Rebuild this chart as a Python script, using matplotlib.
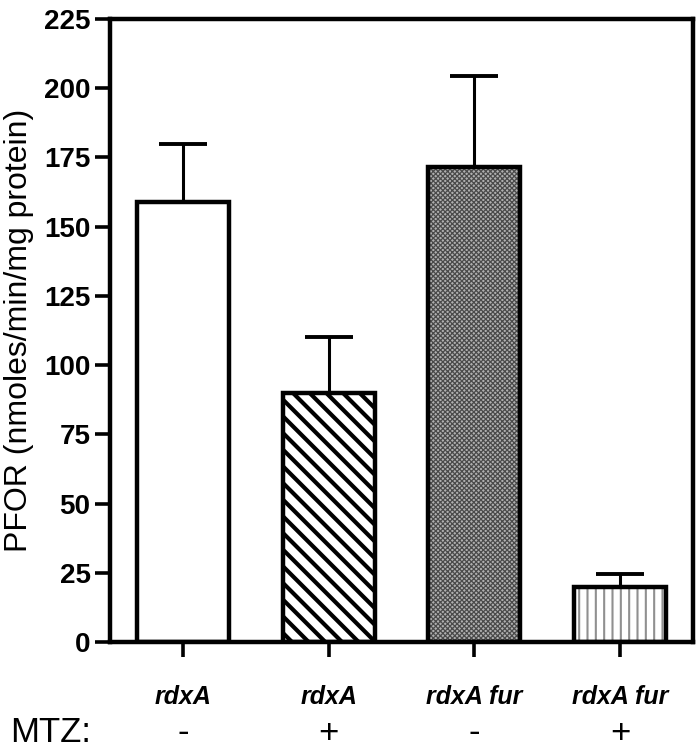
"""PFOR activity bar chart with hatched bars and MTZ row."""

import matplotlib

matplotlib.use("Agg")
import matplotlib.pyplot as plt
from matplotlib.transforms import blended_transform_factory

strains = ["rdxA", "rdxA", "rdxA fur", "rdxA fur"]
mtz = ["-", "+", "-", "+"]
pfor = [159, 90, 171.5, 20]
pfor_err = [21, 20, 33, 4.5]
y_ticks = [0, 25, 50, 75, 100, 125, 150, 175, 200, 225]

plt.rcParams["font.family"] = ["Liberation Sans", "DejaVu Sans"]

fig = plt.figure(figsize=(7.0, 7.52), dpi=100)
ax = fig.add_axes([110 / 700, 110 / 752, 583 / 700, 623 / 752])

x = list(range(len(pfor)))
width = 0.63

# fill / hatch layers (hatch colour follows edgecolor, so outline drawn separately)
styles = [
    dict(face="white", hatch=None, hcolor="black", hlw=1.0),
    dict(face="white", hatch="\\\\", hcolor="black", hlw=3.0),
    dict(face="#b0b0b0", hatch="xxxxxxx", hcolor="#4a4a4a", hlw=0.9),
    dict(face="white", hatch="||", hcolor="#909090", hlw=1.5),
]
for xi, val, st in zip(x, pfor, styles):
    plt.rcParams["hatch.linewidth"] = st["hlw"]
    bars = ax.bar(xi, val, width=width, color=st["face"], edgecolor=st["hcolor"],
                  linewidth=0, hatch=st["hatch"], zorder=2)
    for b in bars:
        if hasattr(b, "set_hatch_linewidth"):
            b.set_hatch_linewidth(st["hlw"])
ax.bar(x, pfor, width=width, color="none", edgecolor="black", linewidth=3.2, zorder=3)

ax.errorbar(x, pfor, yerr=[[0] * len(pfor_err), pfor_err], fmt="none", ecolor="black",
            elinewidth=2.2, capsize=17, capthick=2.8, zorder=1)

ax.set_xlim(-0.5, 3.5)
ax.set_ylim(0, 225)
ax.set_yticks(y_ticks)
ax.set_yticklabels([str(t) for t in y_ticks], fontsize=20, fontweight="bold")
ax.set_xticks(x)
ax.set_xticklabels(strains, fontsize=18, fontweight="bold", style="italic")
ax.tick_params(axis="y", direction="out", length=11, width=2.6, pad=3)
ax.tick_params(axis="x", direction="out", length=11, width=2.6, pad=20)
for sp in ax.spines.values():
    sp.set_linewidth(3.2)

ax.set_ylabel("PFOR (nmoles/min/mg protein)", fontsize=23, labelpad=7)

trans = blended_transform_factory(ax.transData, fig.transFigure)
for xi, m in zip(x, mtz):
    ax.text(xi, (752 - 733) / 752, m, transform=trans, ha="center", va="center",
            fontsize=25)
fig.text(10 / 700, (752 - 733) / 752, "MTZ:", ha="left", va="center", fontsize=25)

fig.savefig("out.png", dpi=100)
